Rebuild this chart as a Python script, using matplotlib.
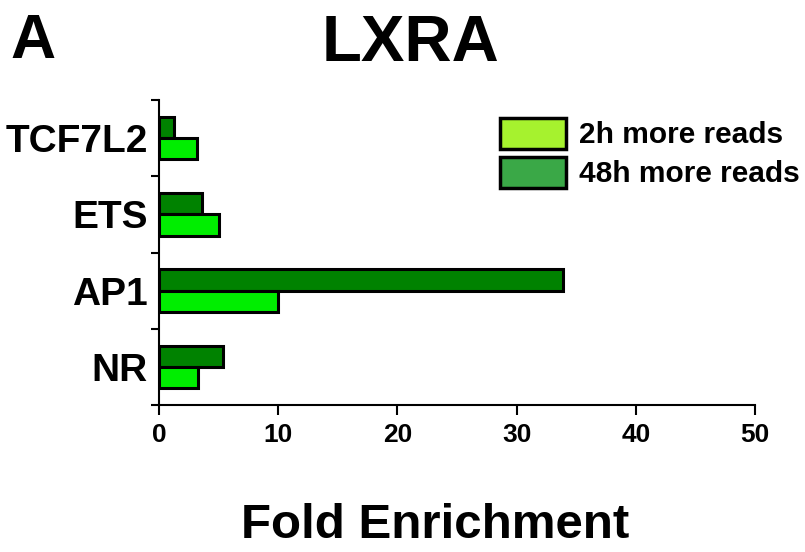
import matplotlib
matplotlib.use("Agg")
import matplotlib.pyplot as plt
from matplotlib.patches import Patch
import numpy as np

plt.rcParams['font.family'] = ['Liberation Sans', 'DejaVu Sans']
plt.rcParams['font.weight'] = 'bold'

# motif categories, bottom to top
motifs = ['NR', 'AP1', 'ETS', 'TCF7L2']
fold_2h = [3.3, 10.0, 5.0, 3.2]
fold_48h = [5.4, 33.9, 3.6, 1.3]
series_labels = ['2h more reads', '48h more reads']

fig = plt.figure(figsize=(8.05, 5.52), dpi=100)
ax = fig.add_axes([0.1975, 0.2663, 0.7405, 0.5525])

y = np.arange(len(motifs))
h = 0.28
ax.barh(y + h / 2, fold_48h, height=h, color='#008200', edgecolor='black', linewidth=2.2)
ax.barh(y - h / 2, fold_2h, height=h, color='#00ee00', edgecolor='black', linewidth=2.2)

ax.set_xlim(0, 50)
ax.set_ylim(-0.5, len(motifs) - 0.5)
ax.set_xticks(np.arange(0, 51, 10))
ax.set_yticks(y)
ax.set_yticklabels(motifs, fontsize=28, fontweight='bold')
ax.tick_params(axis='y', length=0, pad=8)
ax.set_yticks(np.arange(-0.5, len(motifs), 1), minor=True)
ax.tick_params(axis='y', which='minor', length=6, width=1.5, direction='out')
ax.tick_params(axis='x', length=7, width=1.5, direction='out', labelsize=19, pad=6)
for lab in ax.get_xticklabels():
    lab.set_fontweight('bold')

for side in ['top', 'right']:
    ax.spines[side].set_visible(False)
for side in ['left', 'bottom']:
    ax.spines[side].set_linewidth(1.5)

fig.text(435 / 805, 1 - 526 / 552, 'Fold Enrichment', fontsize=35.5, fontweight='bold',
         ha='center', va='center')
fig.text(410 / 805, 1 - 44 / 552, 'LXRA', fontsize=47, fontweight='bold', ha='center', va='center')
fig.text(10 / 805, 1 - 42 / 552, 'A', fontsize=45, fontweight='bold', ha='left', va='center')

handles = [Patch(facecolor='#a6f22e', edgecolor='black', linewidth=2.5),
           Patch(facecolor='#3aa847', edgecolor='black', linewidth=2.5)]
fig.legend(handles, series_labels, loc='upper left', bbox_to_anchor=(485 / 805, 1 - 103 / 552),
           frameon=False, borderpad=0, handlelength=2.2, handleheight=1.2,
           labelspacing=0.26, handletextpad=0.45, prop={'weight': 'bold', 'size': 21.5})

fig.savefig('out.png', dpi=100)
